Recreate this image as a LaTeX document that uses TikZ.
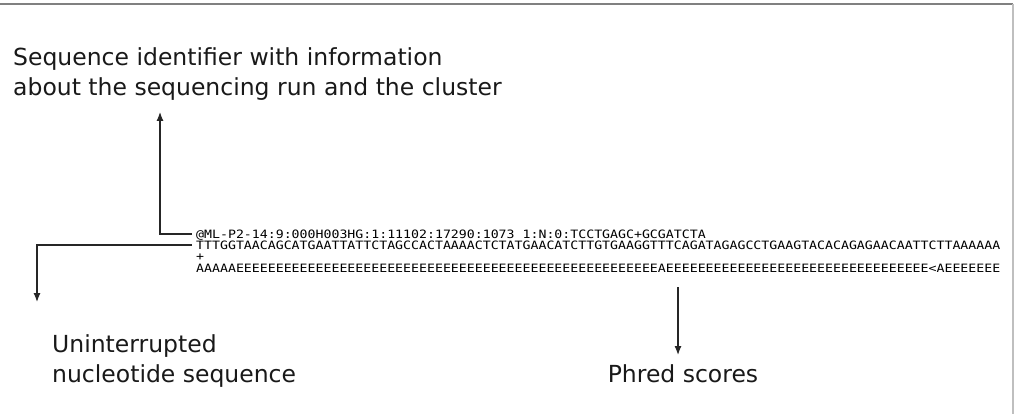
\documentclass[tikz,border=0pt]{standalone}
\usepackage{fontspec}
\setmainfont{DejaVu Sans}
\newfontfamily\seqfont[FakeStretch=1.15]{DejaVu Sans Mono}
\usetikzlibrary{positioning}
\usetikzlibrary{arrows.meta}
\tikzset{>={Latex[length=9pt,width=7pt]}}
\tikzset{lbl/.style={inner sep=0pt, align=left, text=black!90, font=\fontsize{23.5}{30.5}\selectfont}}
\tikzset{seqline/.style={inner sep=0pt, anchor=west, text height=8.5pt, text depth=0pt, font=\seqfont\fontsize{11.5}{11.5}\selectfont}}
\tikzset{pointer/.style={->, line width=1.2pt, black!85}}

\begin{document}
\begin{tikzpicture}[x=1pt, y=-1pt]
\useasboundingbox (0,0) rectangle (1015,414);
\draw[black!50, line width=2pt] (0,4) -- (1013,4);
\draw[black!25, line width=1.5pt] (1013,4) -- (1013,414);

% the four lines of the read
\node[seqline] (hdr) at (196,234) {@ML-P2-14:9:000H003HG:1:11102:17290:1073 1:N:0:TCCTGAGC+GCGATCTA};
\node[seqline] (read) at (196,245) {TTTGGTAACAGCATGAATTATTCTAGCCACTAAAACTCTATGAACATCTTGTGAAGGTTTCAGATAGAGCCTGAAGTACACAGAGAACAATTCTTAAAAAA};
\node[seqline] (plus) at (196,256) {+};
\node[seqline] (qual) at (196,268) {AAAAA{}EEEEEEEEEE{}EEEEEEEEEE{}EEEEEEEEEE{}EEEEEEEEEE{}EEEEEEEEEE{}EEE{}A{}EEEEEEEEEE{}EEEEEEEEEE{}EEEEEEEEEE{}EEE{}<A{}EEEEEEE};

% labels
\node[lbl, anchor=north west] (ident) at (13,47) {Sequence identifier with information\\about the sequencing run and the cluster};
\node[lbl, anchor=north west] (nucl) at (52,334) {Uninterrupted\\nucleotide sequence};
\node[lbl, anchor=north] (phred) at (683,364) {Phred scores};

\coordinate (identtip) at (160,112);
\coordinate (nucltip) at (37,302);
\coordinate (phredtip) at (678,355);

\draw[pointer] ([xshift=-4pt]hdr.west) -| (identtip);
\draw[pointer] ([xshift=-4pt]read.west) -| (nucltip);
\draw[pointer] ([yshift=-15pt]qual.south -| phredtip) -- (phredtip);
\end{tikzpicture}
\end{document}
